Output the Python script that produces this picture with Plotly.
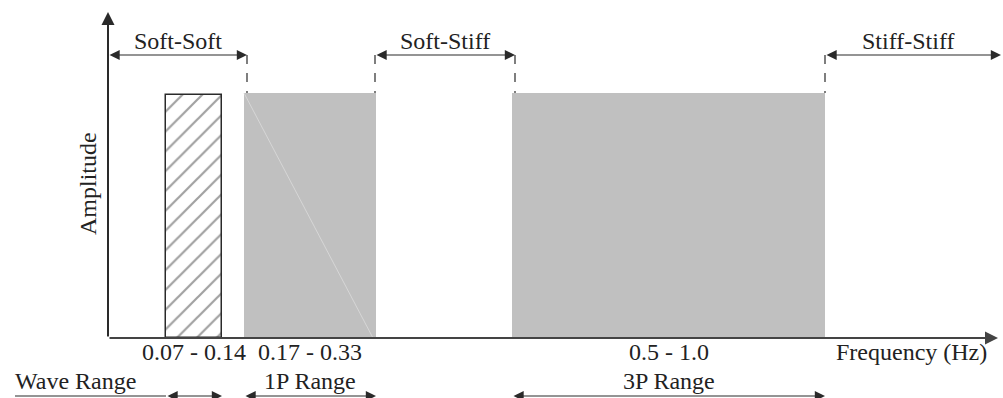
import plotly.graph_objects as go

# ---- data ----
range_names = ["Wave Range", "1P Range", "3P Range"]
freq_labels = ["0.07 - 0.14", "0.17 - 0.33", "0.5 - 1.0"]
amplitude = [0.99, 1.0, 1.0]
regimes = ["Soft-Soft", "Soft-Stiff", "Stiff-Stiff"]
x_title = "Frequency (Hz)"
y_title = "Amplitude"

# ---- schematic layout (x in schematic units from the amplitude axis) ----
band_start = [58, 136, 404]
band_end = [114, 268, 717]
regime_start = [0, 267, 717]
regime_end = [139, 407, 893]

W, H = 1003, 398
X0 = 108          # pixel of x=0
Y0 = 338          # pixel of amplitude 0
PX_PER_AMP = 245.0

def ay(py):
    return (Y0 - py) / PX_PER_AMP

FONT = dict(family="Liberation Serif, Times New Roman, serif", size=24, color="#222")
INK = "#2a2a2a"
GREY = "#c0c0c0"

fig = go.Figure()

centers = [(s + e) / 2 for s, e in zip(band_start, band_end)]
widths = [e - s for s, e in zip(band_start, band_end)]
fig.add_trace(go.Bar(
    x=centers, y=amplitude, width=widths, base=0,
    marker=dict(
        color=["white", GREY, GREY],
        line=dict(color=[INK, GREY, GREY], width=[1.5, 0, 0]),
        pattern=dict(shape=["/", "", ""], fgcolor="#000", bgcolor="white",
                     size=14, solidity=0.16, fillmode="overlay"),
    ),
    showlegend=False, hoverinfo="skip",
))

shapes = []
annotations = []

# faint diagonal inside the 1P block
shapes.append(dict(type="line", xref="x", yref="y",
                   x0=band_start[1], y0=amplitude[1], x1=band_end[1] - 3, y1=0.0,
                   line=dict(color="#d6d6d6", width=1), layer="above"))

def arrow(x_from, y_from, x_to, y_to, both=False, width=1.2, color=INK, size=1.7):
    annotations.append(dict(
        x=x_to, y=y_to, ax=x_from, ay=y_from, xref="x", yref="y", axref="x", ayref="y",
        text="", showarrow=True, arrowhead=2, arrowsize=size, arrowwidth=width,
        arrowcolor=color, arrowside="end+start" if both else "end", standoff=0, startstandoff=0,
    ))

def text(x, y, s, angle=0):
    annotations.append(dict(x=x, y=y, xref="x", yref="y", text=s, showarrow=False,
                            font=FONT, textangle=angle, xanchor="center", yanchor="middle"))

# axes
arrow(0, 0, 0, ay(12), width=2, size=1.3)
arrow(0, 0, 890, 0, width=2, color="#444", size=1.3)

# stiffness regimes (top)
y_reg = ay(55)
for name, s, e in zip(regimes, regime_start, regime_end):
    arrow(s, y_reg, e, y_reg, both=True)
    text((s + e) / 2 if e < 800 else 800, ay(41), name)
for b in [regime_end[0], regime_start[1], regime_end[1], regime_start[2]]:
    shapes.append(dict(type="line", xref="x", yref="y", x0=b, x1=b, y0=y_reg, y1=1.0,
                       line=dict(color=INK, width=1.2, dash="dash")))

# frequency labels under the axis
y_tick = ay(352)
for lab, s, e in zip(freq_labels, band_start, band_end):
    text((s + e) / 2, y_tick, lab)
text(803, y_tick, x_title)

# excitation ranges (bottom)
y_dim = ay(396)
y_lab = ay(381)
for i, (name, s, e) in enumerate(zip(range_names, band_start, band_end)):
    arrow(s, y_dim, e, y_dim, both=True)
    if i == 0:
        shapes.append(dict(type="line", xref="x", yref="y", x0=-93, x1=s, y0=y_dim, y1=y_dim,
                           line=dict(color=INK, width=1.2)))
        text(-33, y_lab, name)
    else:
        text((s + e) / 2, y_lab, name)

text(-20, ay(184), y_title, angle=-90)

fig.update_layout(
    width=W, height=H, margin=dict(l=0, r=0, t=0, b=0),
    paper_bgcolor="white", plot_bgcolor="white",
    xaxis=dict(range=[-X0, W - X0], visible=False, fixedrange=True),
    yaxis=dict(range=[ay(H), ay(0)], visible=False, fixedrange=True),
    barmode="overlay", bargap=0,
    shapes=shapes, annotations=annotations,
)

fig.write_html("out.html")
